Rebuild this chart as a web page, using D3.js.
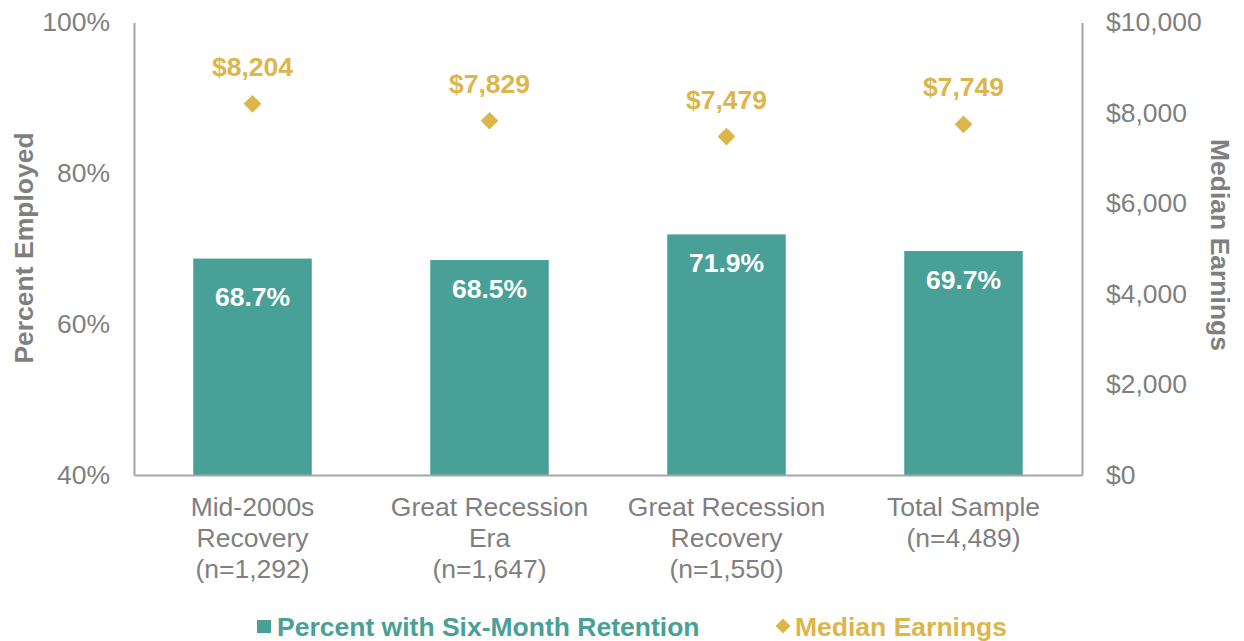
<!DOCTYPE html>
<html>
<head>
<meta charset="utf-8">
<script src="https://cdn.jsdelivr.net/npm/d3@7"></script>
<style>
  body { margin: 0; background: #fff; }
  text { font-family: "Liberation Sans", Arial, sans-serif; }
</style>
</head>
<body>
<svg width="1244" height="641"></svg>
<script>
// data
const categories = [
  ["Mid-2000s", "Recovery", "(n=1,292)"],
  ["Great Recession", "Era", "(n=1,647)"],
  ["Great Recession", "Recovery", "(n=1,550)"],
  ["Total Sample", "(n=4,489)"]
];
const retention = [68.7, 68.5, 71.9, 69.7];
const earnings = [8204, 7829, 7479, 7749];
const leftTicks = [40, 60, 80, 100];
const rightTicks = [0, 2000, 4000, 6000, 8000, 10000];

const teal = "#48a097";
const gold = "#dcb54b";
const grey = "#7f7f7f";
const fs = 26.5;

const plotLeft = 134, plotRight = 1082, plotTop = 22.5, plotBottom = 475;

const svg = d3.select("svg");

const x = d3.scaleBand()
  .domain(d3.range(categories.length))
  .range([plotLeft, plotRight])
  .paddingInner(0.5)
  .paddingOuter(0.25);

const yL = d3.scaleLinear().domain([40, 100]).range([plotBottom, plotTop]);
const yR = d3.scaleLinear().domain([0, 10000]).range([plotBottom, plotTop]);

// bars
svg.selectAll("rect.bar")
  .data(retention)
  .enter()
  .append("rect")
  .attr("class", "bar")
  .attr("x", (d, i) => x(i))
  .attr("y", d => yL(d))
  .attr("width", x.bandwidth())
  .attr("height", d => plotBottom - yL(d))
  .attr("fill", teal);

// first label sits a bit lower in the original
svg.selectAll("text.barlab")
  .data(retention)
  .enter()
  .append("text")
  .attr("class", "barlab")
  .attr("x", (d, i) => x(i) + x.bandwidth() / 2)
  .attr("y", (d, i) => yL(d) + (i === 0 ? 47 : 38))
  .attr("text-anchor", "middle")
  .attr("font-size", fs)
  .attr("font-weight", "bold")
  .attr("fill", "#fff")
  .text(d => d.toFixed(1) + "%");

// diamonds for earnings
const diamond = d3.symbol().type(d3.symbolDiamond2).size(200);
svg.selectAll("path.dot")
  .data(earnings)
  .enter()
  .append("path")
  .attr("class", "dot")
  .attr("d", diamond)
  .attr("transform", (d, i) => "translate(" + (x(i) + x.bandwidth() / 2) + "," + yR(d) + ")")
  .attr("fill", gold);

svg.selectAll("text.dotlab")
  .data(earnings)
  .enter()
  .append("text")
  .attr("class", "dotlab")
  .attr("x", (d, i) => x(i) + x.bandwidth() / 2)
  .attr("y", d => yR(d) - 28)
  .attr("text-anchor", "middle")
  .attr("font-size", fs)
  .attr("font-weight", "bold")
  .attr("fill", gold)
  .text(d => "$" + d3.format(",")(d));

// axes
const axL = svg.append("g")
  .attr("transform", "translate(" + plotLeft + ",0)")
  .call(d3.axisLeft(yL).tickValues(leftTicks).tickSize(0).tickPadding(24).tickFormat(d => d + "%"));
const axR = svg.append("g")
  .attr("transform", "translate(" + plotRight + ",0)")
  .call(d3.axisRight(yR).tickValues(rightTicks).tickSize(0).tickPadding(24).tickFormat(d => "$" + d3.format(",")(d)));
const axB = svg.append("g")
  .attr("transform", "translate(0," + plotBottom + ")")
  .call(d3.axisBottom(x).tickSize(0).tickFormat(""));

[axL, axR, axB].forEach(g => {
  g.select(".domain").attr("stroke", "#a6a6a6").attr("stroke-width", 2);
  g.selectAll("text")
    .attr("font-size", fs)
    .attr("fill", grey)
    .style("font-family", '"Liberation Sans", Arial, sans-serif');
});

// category labels (multi-line)
axB.selectAll(".tick").each(function(d) {
  const t = d3.select(this).append("text")
    .attr("text-anchor", "middle")
    .attr("font-size", fs)
    .attr("fill", grey)
    .style("font-family", '"Liberation Sans", Arial, sans-serif');
  categories[d].forEach((line, k) => {
    t.append("tspan").attr("x", 0).attr("y", 41 + k * 31).text(line);
  });
});

// axis titles
svg.append("text")
  .attr("transform", "translate(33,248) rotate(-90)")
  .attr("text-anchor", "middle")
  .attr("font-size", fs)
  .attr("font-weight", "bold")
  .attr("fill", grey)
  .text("Percent Employed");

svg.append("text")
  .attr("transform", "translate(1211,245) rotate(90)")
  .attr("text-anchor", "middle")
  .attr("font-size", fs)
  .attr("font-weight", "bold")
  .attr("fill", grey)
  .text("Median Earnings");

// legend
const leg = svg.append("g");
leg.append("rect")
  .attr("x", 257).attr("y", 620).attr("width", 14).attr("height", 13)
  .attr("fill", teal);
leg.append("text")
  .attr("x", 277).attr("y", 636)
  .attr("font-size", fs).attr("font-weight", "bold").attr("fill", teal)
  .text("Percent with Six-Month Retention");
leg.append("path")
  .attr("d", d3.symbol().type(d3.symbolDiamond2).size(140))
  .attr("transform", "translate(783,626)")
  .attr("fill", gold);
leg.append("text")
  .attr("x", 795).attr("y", 636)
  .attr("font-size", fs).attr("font-weight", "bold").attr("fill", gold)
  .text("Median Earnings");
</script>
</body>
</html>
